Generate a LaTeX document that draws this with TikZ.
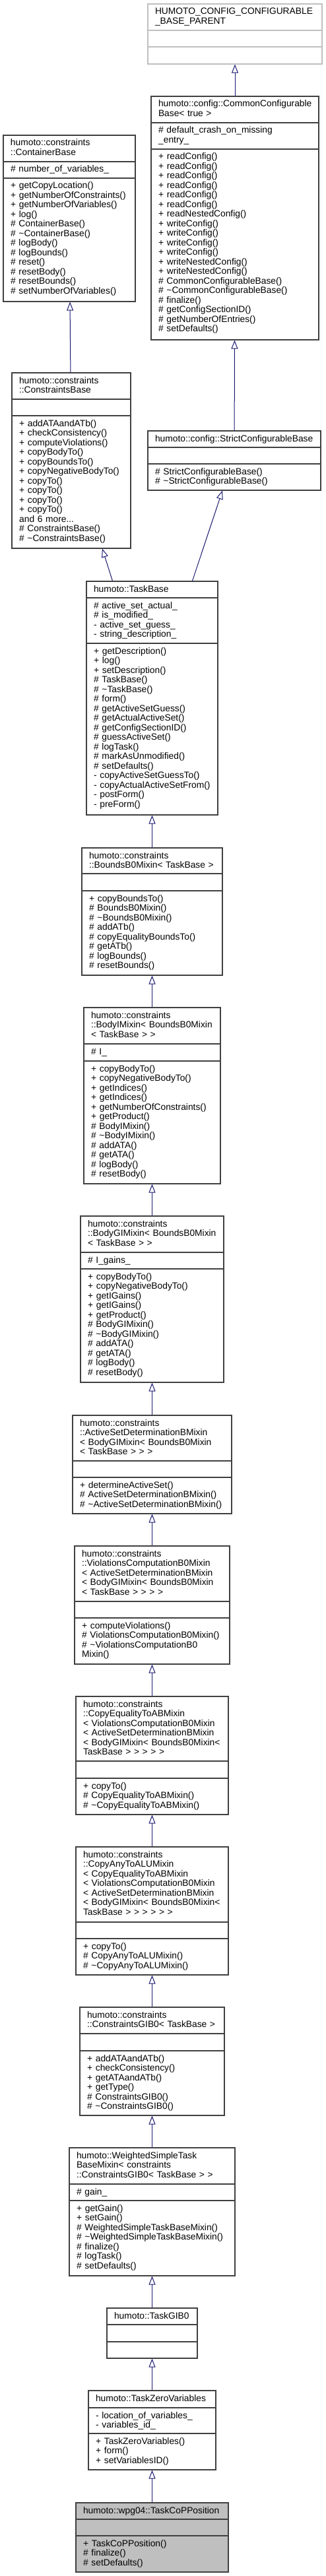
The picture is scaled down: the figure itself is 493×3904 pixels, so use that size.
\documentclass[tikz,border=0pt]{standalone}
\usepackage{fontspec}
\setmainfont{Liberation Sans}
\usetikzlibrary{arrows.meta}

\definecolor{boxgray}{HTML}{404040}
\definecolor{edgeblue}{HTML}{191970}
\definecolor{grey75}{HTML}{BFBFBF}

\hyphenpenalty=10000
\exhyphenpenalty=10000

\newcommand{\memberfont}{\fontsize{13.8}{14.5}\selectfont}
\newcommand{\dtor}{\textasciitilde}

\tikzset{
    classbox/.style={draw=boxgray, line width=1.2pt, fill=white, inner sep=0pt},
    sectline/.style={draw=boxgray, line width=1.2pt},
    titletext/.style={anchor=base, inner sep=0pt, font=\memberfont},
    membertext/.style={anchor=base west, text width=300pt, inner sep=0pt, font=\memberfont},
    inherit/.style={draw=edgeblue, line width=1pt, -{Triangle[open, length=13pt, width=10pt]}},
}

% class box: [style] name, left, top, right, bottom, first and second separator
\newcommand{\umlclass}[8][]{%
    \node[classbox, #1, minimum width={#5-#3}, minimum height={#6-#4}] (#2) at ({(#3+#5)/2},{(#4+#6)/2}) {};
    \draw[sectline, #1] (#3,#7) -- (#5,#7) (#3,#8) -- (#5,#8);
    \coordinate (#2-t) at ({(#3+#5)/2},#4+16);
    \coordinate (#2-a) at (#3+11,#7+16);
    \coordinate (#2-m) at (#3+11,#8+16);
    \pgfmathsetmacro{\titlew}{#5-#3-22}%
}

\begin{document}
\begin{tikzpicture}[x=1pt,y=-1pt]
    \useasboundingbox (0,0) rectangle (493,3904);

    \umlclass[draw=grey75]{parent}{224}{6}{488}{97}{46}{71}
    \node[titletext, text width=\titlew pt] at (parent-t) {\raggedright HUMOTO\_CONFIG\_CONFIGURABLE\par\centering \_BASE\_PARENT};

    \umlclass{common}{229}{146}{483}{515}{186}{226}
    \node[titletext, text width=\titlew pt] at (common-t) {\raggedright humoto::config::CommonConfigurable\par\centering Base<~true~>};
    \node[membertext] at (common-a) {\# default\_crash\_on\_missing\\\_entry\_};
    \node[membertext] at (common-m) {+ readConfig()\\+ readConfig()\\+ readConfig()\\+ readConfig()\\+ readConfig()\\+ readConfig()\\+ readNestedConfig()\\+ writeConfig()\\+ writeConfig()\\+ writeConfig()\\+ writeConfig()\\+ writeNestedConfig()\\+ writeNestedConfig()\\\# CommonConfigurableBase()\\\# \dtor CommonConfigurableBase()\\\# finalize()\\\# getConfigSectionID()\\\# getNumberOfEntries()\\\# setDefaults()};

    \umlclass{container}{5}{205}{205}{457}{245}{270}
    \node[titletext, text width=\titlew pt] at (container-t) {\raggedright humoto::constraints\par\centering ::ContainerBase};
    \node[membertext] at (container-a) {\# number\_of\_variables\_};
    \node[membertext] at (container-m) {+ getCopyLocation()\\+ getNumberOfConstraints()\\+ getNumberOfVariables()\\+ log()\\\# ContainerBase()\\\# \dtor ContainerBase()\\\# logBody()\\\# logBounds()\\\# reset()\\\# resetBody()\\\# resetBounds()\\\# setNumberOfVariables()};

    \umlclass{cbase}{18}{565}{198}{831}{605}{630}
    \node[titletext, text width=\titlew pt] at (cbase-t) {\raggedright humoto::constraints\par\centering ::ConstraintsBase};
    \node[membertext] at (cbase-m) {+ addATAandATb()\\+ checkConsistency()\\+ computeViolations()\\+ copyBodyTo()\\+ copyBoundsTo()\\+ copyNegativeBodyTo()\\+ copyTo()\\+ copyTo()\\+ copyTo()\\+ copyTo()\\and 6 more...\\\# ConstraintsBase()\\\# \dtor ConstraintsBase()};

    \umlclass{strict}{224}{653}{486}{743}{678}{703}
    \node[titletext, text width=\titlew pt] at (strict-t) {\centering humoto::config::StrictConfigurableBase};
    \node[membertext] at (strict-m) {\# StrictConfigurableBase()\\\# \dtor StrictConfigurableBase()};

    \umlclass{taskbase}{131}{881}{330}{1235}{906}{975}
    \node[titletext, text width=\titlew pt] at (taskbase-t) {\centering humoto::TaskBase};
    \node[membertext] at (taskbase-a) {\# active\_set\_actual\_\\\# is\_modified\_\\- active\_set\_guess\_\\- string\_description\_};
    \node[membertext] at (taskbase-m) {+ getDescription()\\+ log()\\+ setDescription()\\\# TaskBase()\\\# \dtor TaskBase()\\\# form()\\\# getActiveSetGuess()\\\# getActualActiveSet()\\\# getConfigSectionID()\\\# guessActiveSet()\\\# logTask()\\\# markAsUnmodified()\\\# setDefaults()\\- copyActiveSetGuessTo()\\- copyActualActiveSetFrom()\\- postForm()\\- preForm()};

    \umlclass{bounds}{124}{1285}{337}{1478}{1324}{1350}
    \node[titletext, text width=\titlew pt] at (bounds-t) {\raggedright humoto::constraints\par\centering ::BoundsB0Mixin<~TaskBase~>};
    \node[membertext] at (bounds-m) {+ copyBoundsTo()\\\# BoundsB0Mixin()\\\# \dtor BoundsB0Mixin()\\\# addATb()\\\# copyEqualityBoundsTo()\\\# getATb()\\\# logBounds()\\\# resetBounds()};

    \umlclass{bodyi}{127}{1527}{334}{1794}{1582}{1608}
    \node[titletext, text width=\titlew pt] at (bodyi-t) {\raggedright humoto::constraints\\::BodyIMixin<~BoundsB0Mixin\par\centering <~TaskBase~>~>};
    \node[membertext] at (bodyi-a) {\# I\_};
    \node[membertext] at (bodyi-m) {+ copyBodyTo()\\+ copyNegativeBodyTo()\\+ getIndices()\\+ getIndices()\\+ getNumberOfConstraints()\\+ getProduct()\\\# BodyIMixin()\\\# \dtor BodyIMixin()\\\# addATA()\\\# getATA()\\\# logBody()\\\# resetBody()};

    \umlclass{bodygi}{122}{1843}{339}{2095}{1898}{1923}
    \node[titletext, text width=\titlew pt] at (bodygi-t) {\raggedright humoto::constraints\\::BodyGIMixin<~BoundsB0Mixin\par\centering <~TaskBase~>~>};
    \node[membertext] at (bodygi-a) {\# I\_gains\_};
    \node[membertext] at (bodygi-m) {+ copyBodyTo()\\+ copyNegativeBodyTo()\\+ getIGains()\\+ getIGains()\\+ getProduct()\\\# BodyGIMixin()\\\# \dtor BodyGIMixin()\\\# addATA()\\\# getATA()\\\# logBody()\\\# resetBody()};

    \umlclass{asd}{110}{2145}{351}{2294}{2214}{2239}
    \node[titletext, text width=\titlew pt] at (asd-t) {\raggedright humoto::constraints\\::ActiveSetDeterminationBMixin\\<~BodyGIMixin<~BoundsB0Mixin\par\centering <~TaskBase~>~>~>};
    \node[membertext] at (asd-m) {+ determineActiveSet()\\\# ActiveSetDeterminationBMixin()\\\# \dtor ActiveSetDeterminationBMixin()};

    \umlclass{viol}{113}{2343}{348}{2522}{2427}{2452}
    \node[titletext, text width=\titlew pt] at (viol-t) {\raggedright humoto::constraints\\::ViolationsComputationB0Mixin\\<~ActiveSetDeterminationBMixin\\<~BodyGIMixin<~BoundsB0Mixin\par\centering <~TaskBase~>~>~>~>};
    \node[membertext] at (viol-m) {+ computeViolations()\\\# ViolationsComputationB0Mixin()\\\# \dtor ViolationsComputationB0\\Mixin()};

    \umlclass{copyeq}{115}{2571}{346}{2750}{2669}{2695}
    \node[titletext, text width=\titlew pt] at (copyeq-t) {\raggedright humoto::constraints\\::CopyEqualityToABMixin\\<~ViolationsComputationB0Mixin\\<~ActiveSetDeterminationBMixin\\<~BodyGIMixin<~BoundsB0Mixin<\par\centering TaskBase~>~>~>~>~>};
    \node[membertext] at (copyeq-m) {+ copyTo()\\\# CopyEqualityToABMixin()\\\# \dtor CopyEqualityToABMixin()};

    \umlclass{copyany}{115}{2799}{346}{2993}{2913}{2938}
    \node[titletext, text width=\titlew pt] at (copyany-t) {\raggedright humoto::constraints\\::CopyAnyToALUMixin\\<~CopyEqualityToABMixin\\<~ViolationsComputationB0Mixin\\<~ActiveSetDeterminationBMixin\\<~BodyGIMixin<~BoundsB0Mixin<\par\centering TaskBase~>~>~>~>~>~>};
    \node[membertext] at (copyany-m) {+ copyTo()\\\# CopyAnyToALUMixin()\\\# \dtor CopyAnyToALUMixin()};

    \umlclass{gib}{121}{3042}{340}{3206}{3082}{3108}
    \node[titletext, text width=\titlew pt] at (gib-t) {\raggedright humoto::constraints\par\centering ::ConstraintsGIB0<~TaskBase~>};
    \node[membertext] at (gib-m) {+ addATAandATb()\\+ checkConsistency()\\+ getATAandATb()\\+ getType()\\\# ConstraintsGIB0()\\\# \dtor ConstraintsGIB0()};

    \umlclass{weighted}{105}{3255}{356}{3449}{3310}{3335}
    \node[titletext, text width=\titlew pt] at (weighted-t) {\raggedright humoto::WeightedSimpleTask\\BaseMixin<~constraints\par\centering ::ConstraintsGIB0<~TaskBase~>~>};
    \node[membertext] at (weighted-a) {\# gain\_};
    \node[membertext] at (weighted-m) {+ getGain()\\+ setGain()\\\# WeightedSimpleTaskBaseMixin()\\\# \dtor WeightedSimpleTaskBaseMixin()\\\# finalize()\\\# logTask()\\\# setDefaults()};

    \umlclass{taskgib}{162}{3498}{299}{3574}{3523}{3549}
    \node[titletext, text width=\titlew pt] at (taskgib-t) {\centering humoto::TaskGIB0};

    \umlclass{zerovars}{134}{3623}{327}{3743}{3649}{3688}
    \node[titletext, text width=\titlew pt] at (zerovars-t) {\centering humoto::TaskZeroVariables};
    \node[membertext] at (zerovars-a) {- location\_of\_variables\_\\- variables\_id\_};
    \node[membertext] at (zerovars-m) {+ TaskZeroVariables()\\+ form()\\+ setVariablesID()};

    \umlclass[fill=grey75]{copposition}{115}{3793}{346}{3898}{3818}{3843}
    \node[titletext, text width=\titlew pt] at (copposition-t) {\centering humoto::wpg04::TaskCoPPosition};
    \node[membertext] at (copposition-m) {+ TaskCoPPosition()\\\# finalize()\\\# setDefaults()};

    % inheritance, arrow tip at the base class
    \draw[inherit] (common) -- (parent);
    \draw[inherit] (strict) -- (common);
    \draw[inherit] (cbase) -- (container);
    \draw[inherit] ([xshift=-60pt]taskbase.north) -- ([xshift=47pt]cbase.south);
    \draw[inherit] ([xshift=61pt]taskbase.north) -- ([xshift=-18pt]strict.south);
    \foreach \child/\base in {bounds/taskbase, bodyi/bounds, bodygi/bodyi, asd/bodygi, viol/asd,
        copyeq/viol, copyany/copyeq, gib/copyany, weighted/gib, taskgib/weighted,
        zerovars/taskgib, copposition/zerovars}
        \draw[inherit] (\child) -- (\base);
\end{tikzpicture}
\end{document}
